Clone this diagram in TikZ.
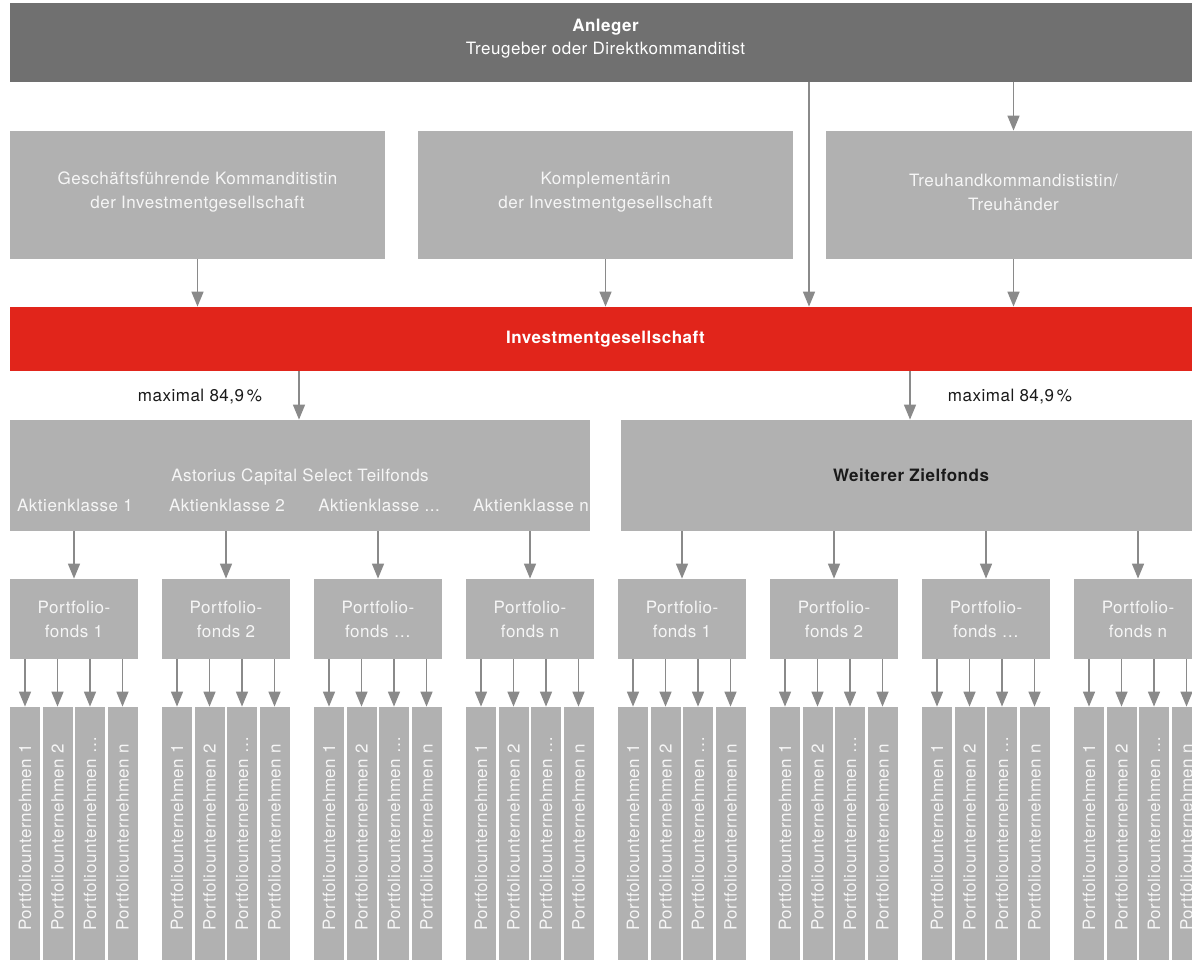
\documentclass[tikz,border=0pt]{standalone}
\usepackage{fontspec}
\setmainfont{TeX Gyre Heros}[LetterSpace=3]
\usetikzlibrary{arrows.meta}
\definecolor{darkbar}{HTML}{707070}
\definecolor{lightbox}{HTML}{B1B1B1}
\definecolor{redbar}{HTML}{E1251B}
\definecolor{arrowgray}{HTML}{8A8A8A}
\definecolor{labeltext}{HTML}{1A1A1A}
\definecolor{softwhite}{HTML}{F6F6F6}
\tikzset{
  pbox/.style={fill=lightbox, draw=none, inner sep=0pt, text=softwhite, align=center,
    font=\fontsize{8.5}{12}\selectfont},
  topbox/.style={pbox, fill=darkbar},
  redbox/.style={pbox, fill=redbar, text=white},
  fondsbox/.style={pbox, minimum width=64pt, minimum height=40pt},
  subbox/.style={pbox, minimum width=15pt, minimum height=134pt},
  txt/.style={inner sep=0pt, font=\fontsize{8.5}{12}\selectfont},
  arr/.style={draw=arrowgray, line width=0.75pt, -{Triangle[width=6pt,length=7.5pt]}, color=arrowgray},
}
\begin{document}
\begin{tikzpicture}[x=0.5pt,y=-0.5pt]
\useasboundingbox (0,0) rectangle (1192,959);
\clip (0,0) rectangle (1192,959);
% top bar
\node[topbox, minimum width=595.5pt, minimum height=39.5pt] (anl) at (605.5,42.5) {};
\node[txt, text=white] (anlA) at (605.5,27) {\bfseries Anleger};
\node[txt, text=white] (anlB) at (605.5,50) {Treugeber oder Direktkommanditist};
% second row
\node[pbox, minimum width=187.5pt, minimum height=64pt] (gk) at (197.5,195) {};
\node[pbox, minimum width=187.5pt, minimum height=64pt] (kp) at (605.5,195) {};
\node[pbox, minimum width=187.5pt, minimum height=64pt] (th) at (1013.5,195) {};
\node[txt, text=softwhite, align=center] (gkT) at (197.5,192) {Geschäftsführende Kommanditistin\\der Investmentgesellschaft};
\node[txt, text=softwhite, align=center] (kpT) at (605.5,192) {Komplementärin\\der Investmentgesellschaft};
\node[txt, text=softwhite, align=center] (thT) at (1013.5,192) {Treuhandkommandististin/\\Treuhänder};
% red bar
\node[redbox, minimum width=595.5pt, minimum height=32pt, font=\fontsize{8.5}{12}\selectfont\bfseries] (inv) at (605.5,339) {Investmentgesellschaft};
% connectors row 2
\coordinate (vx) at (809,0);
\draw[arr] (anl.south -| th.north) -- (th.north);
\draw[arr] (anl.south -| vx) -- (inv.north -| vx);
\draw[arr] (gk.south) -- (inv.north -| gk.south);
\draw[arr] (kp.south) -- (inv.north -| kp.south);
\draw[arr] (th.south) -- (inv.north -| th.south);
% big boxes
\node[pbox, minimum width=290pt, minimum height=55.5pt] (acs) at (300,475.5) {};
\node[pbox, minimum width=290pt, minimum height=55.5pt, text=labeltext, font=\fontsize{8.5}{12}\selectfont\bfseries] (wz) at (911,475.5) {Weiterer Zielfonds};
\node[txt, text=softwhite] (acsT) at (300,477) {Astorius Capital Select Teilfonds};
\coordinate (la) at (299,0);
\coordinate (ra) at (910,0);
\draw[arr] (inv.south -| la) -- (acs.north -| la);
\draw[arr] (inv.south -| ra) -- (wz.north -| ra);
\node[txt, text=labeltext] (m1) at (200,397) {maximal 84,9\,\%};
\node[txt, text=labeltext] (m2) at (1010,397) {maximal 84,9\,\%};
% aktienklassen labels
\foreach \k/\lab in {0/1,1/2,2/{...},3/n}{
  \node[txt, text=softwhite] (ak\k) at (75+152*\k,505) {Aktienklasse \lab};
}
% portfolio fonds
\foreach \g/\lab in {0/1,1/2,2/{…},3/n,4/1,5/2,6/{…},7/n}{
  \node[fondsbox] (f\g) at (74+152*\g,619) {Portfolio-\\fonds \lab};
  \foreach \k/\sl in {0/1,1/2,2/{…},3/n}{
    \node[subbox] (s\g-\k) at (25+152*\g+32.5*\k,841) {};
    \node[txt, text=softwhite, rotate=90, anchor=west] (st\g-\k) at (25+152*\g+32.5*\k,931) {Portfoliounternehmen \sl};
    \draw[arr] (f\g.south -| s\g-\k.north) -- (s\g-\k.north);
  }
}
\foreach \g in {0,1,2,3}{
  \draw[arr] (acs.south -| f\g.north) -- (f\g.north);
}
\foreach \g in {4,5,6,7}{
  \draw[arr] (wz.south -| f\g.north) -- (f\g.north);
}
\end{tikzpicture}
\end{document}
